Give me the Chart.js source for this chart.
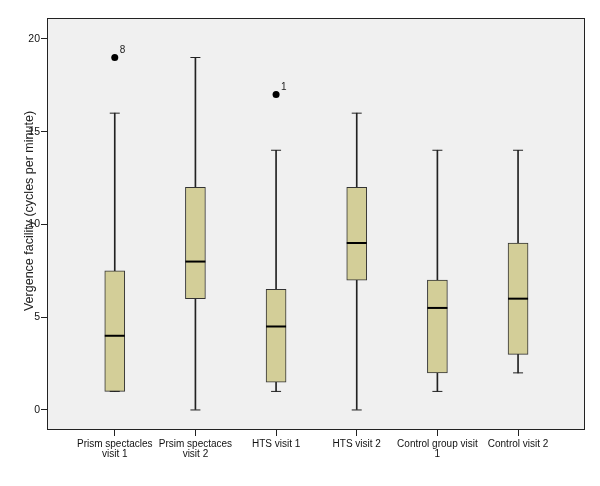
<!DOCTYPE html>
<html>
<head>
<meta charset="utf-8">
<script src="https://cdn.jsdelivr.net/npm/chart.js@4/dist/chart.umd.min.js"></script>
<style>
  html, body { margin: 0; padding: 0; background: #fff; }
  #wrap { width: 600px; height: 486px; position: relative; }
</style>
</head>
<body>
<div id="wrap"><canvas id="chart"></canvas></div>
<script>
// box plot values
const groups = [
  ["Prism spectacles", "visit 1"],
  ["Prsim spectaces", "visit 2"],
  "HTS visit 1",
  "HTS visit 2",
  ["Control group visit", "1"],
  "Control visit 2",
];
const whiskerLow = [1, 0, 1, 0, 1, 2];
const q1 = [1, 6, 1.5, 7, 2, 3];
const medians = [4, 8, 4.5, 9, 5.5, 6];
const q3 = [7.5, 12, 6.5, 12, 7, 9];
const whiskerHigh = [16, 19, 14, 16, 14, 14];
const outlierGroup = [0, 2];
const outlierValue = [19, 17];
const outlierCase = ["8", "1"];
const yTicks = [0, 5, 10, 15, 20];
const yTitle = "Vergence facility (cycles per minute)";

const FONT = "'Liberation Sans', Arial, sans-serif";
const idx = groups.map((_, i) => i);

const plotFrame = {
  id: "plotFrame",
  beforeDatasetsDraw(chart) {
    const { ctx, chartArea: a } = chart;
    ctx.save();
    ctx.fillStyle = "#f0f0f0";
    ctx.fillRect(a.left, a.top, a.right - a.left, a.bottom - a.top);
    ctx.restore();
  },
  afterDatasetsDraw(chart) {
    const { ctx, chartArea: a } = chart;
    ctx.save();
    ctx.strokeStyle = "#222";
    ctx.lineWidth = 1;
    ctx.strokeRect(Math.round(a.left) + 0.5, Math.round(a.top) + 0.5,
      Math.round(a.right - a.left) - 1, Math.round(a.bottom - a.top) - 1);
    // case numbers next to outliers
    const xs = chart.scales.x, ys = chart.scales.y;
    ctx.fillStyle = "#222";
    ctx.font = "10px " + FONT;
    ctx.textBaseline = "middle";
    outlierGroup.forEach((g, i) => {
      ctx.fillText(outlierCase[i], xs.getPixelForValue(g) + 5, ys.getPixelForValue(outlierValue[i]) - 7);
    });
    ctx.restore();
  },
  afterDraw(chart) {
    // y axis title, sitting a little above the plot centre like the original
    const { ctx } = chart;
    ctx.save();
    ctx.translate(29.5, 211);
    ctx.rotate(-Math.PI / 2);
    ctx.fillStyle = "#222";
    ctx.font = "12.5px " + FONT;
    ctx.textAlign = "center";
    ctx.textBaseline = "middle";
    ctx.fillText(yTitle, 0, 0);
    ctx.restore();
  },
};

new Chart(document.getElementById("chart"), {
  type: "bar",
  data: {
    datasets: [
      {
        // lower + upper whiskers
        type: "bar",
        data: idx.map((i) => ({ x: i, y: [whiskerLow[i], q1[i]] })),
        backgroundColor: "#222",
        barThickness: 1,
        grouped: false,
        order: 5,
      },
      {
        type: "bar",
        data: idx.map((i) => ({ x: i, y: [q3[i], whiskerHigh[i]] })),
        backgroundColor: "#222",
        barThickness: 1,
        grouped: false,
        order: 5,
      },
      {
        // boxes
        type: "bar",
        data: idx.map((i) => ({ x: i, y: [q1[i], q3[i]] })),
        backgroundColor: "#d3ce98",
        borderColor: "#333",
        borderWidth: 1,
        borderSkipped: false,
        barThickness: 20,
        grouped: false,
        order: 4,
      },
      {
        // whisker caps
        type: "scatter",
        data: idx.flatMap((i) => [{ x: i, y: whiskerLow[i] }, { x: i, y: whiskerHigh[i] }]),
        pointStyle: "line",
        radius: 5,
        borderColor: "#222",
        borderWidth: 1,
        order: 3,
      },
      {
        // medians
        type: "scatter",
        data: idx.map((i) => ({ x: i, y: medians[i] })),
        pointStyle: "line",
        radius: 10,
        borderColor: "#000",
        borderWidth: 2,
        order: 2,
      },
      {
        // outliers
        type: "scatter",
        data: outlierGroup.map((g, i) => ({ x: g, y: outlierValue[i] })),
        pointStyle: "circle",
        radius: 3.5,
        backgroundColor: "#000",
        borderColor: "#000",
        borderWidth: 0,
        order: 1,
      },
    ],
  },
  options: {
    responsive: true,
    maintainAspectRatio: false,
    animation: false,
    layout: { padding: { left: 0, right: 15, top: 18, bottom: 0 } },
    plugins: {
      legend: { display: false },
      tooltip: { enabled: false },
    },
    scales: {
      x: {
        type: "linear",
        min: -0.84,
        max: 5.83,
        offset: false,
        afterBuildTicks: (scale) => { scale.ticks = idx.map((v) => ({ value: v })); },
        afterFit: (scale) => { scale.height = 56; },
        grid: { offset: false, drawOnChartArea: false, drawTicks: true, tickLength: 6, color: "#222" },
        border: { display: false },
        ticks: {
          autoSkip: false,
          maxRotation: 0,
          padding: 3,
          color: "#111",
          font: { family: FONT, size: 10, lineHeight: 1.0 },
          callback: (v) => groups[v],
        },
      },
      y: {
        type: "linear",
        min: -1.08,
        max: 21.13,
        afterBuildTicks: (scale) => { scale.ticks = yTicks.map((v) => ({ value: v })); },
        afterFit: (scale) => { scale.width = 47; },
        grid: { drawOnChartArea: false, drawTicks: true, tickLength: 6, color: "#222" },
        border: { display: false },
        ticks: {
          padding: 1,
          color: "#111",
          font: { family: FONT, size: 10.5 },
        },
      },
    },
  },
  plugins: [plotFrame],
});
</script>
</body>
</html>
